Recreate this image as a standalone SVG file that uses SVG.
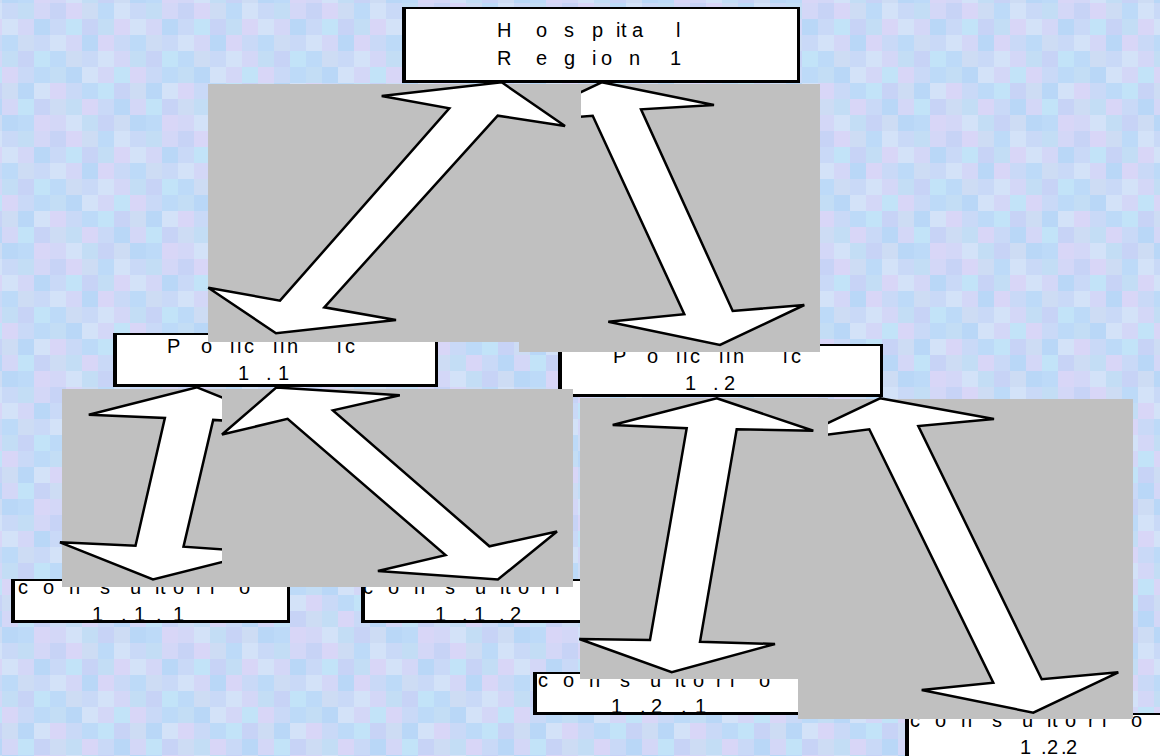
<svg xmlns="http://www.w3.org/2000/svg" width="1160" height="756" viewBox="0 0 1160 756">
  <defs>
    <!-- pale blue mosaic backdrop, 16px tiles -->
    <pattern id="mosaic" x="2" y="3" width="128" height="128" patternUnits="userSpaceOnUse">
      <rect width="128" height="128" fill="#C9D9F7"/>
      <rect x="16" y="0" width="16" height="16" fill="#C3DDF5"/>
      <rect x="32" y="0" width="16" height="16" fill="#D3D7F7"/>
      <rect x="48" y="0" width="16" height="16" fill="#C7D3F6"/>
      <rect x="64" y="0" width="16" height="16" fill="#D8D6F7"/>
      <rect x="80" y="0" width="16" height="16" fill="#CDDCF4"/>
      <rect x="96" y="0" width="16" height="16" fill="#BDDAF8"/>
      <rect x="112" y="0" width="16" height="16" fill="#D3E2F8"/>
      <rect x="0" y="16" width="16" height="16" fill="#D3E2F8"/>
      <rect x="16" y="16" width="16" height="16" fill="#D3D7F7"/>
      <rect x="32" y="16" width="16" height="16" fill="#B9D7F7"/>
      <rect x="64" y="16" width="16" height="16" fill="#C2E3F8"/>
      <rect x="80" y="16" width="16" height="16" fill="#C7D3F6"/>
      <rect x="96" y="16" width="16" height="16" fill="#C3DDF5"/>
      <rect x="112" y="16" width="16" height="16" fill="#D8D6F7"/>
      <rect x="0" y="32" width="16" height="16" fill="#BDDAF8"/>
      <rect x="16" y="32" width="16" height="16" fill="#CDDCF4"/>
      <rect x="48" y="32" width="16" height="16" fill="#D3E2F8"/>
      <rect x="64" y="32" width="16" height="16" fill="#D3D7F7"/>
      <rect x="80" y="32" width="16" height="16" fill="#B9D7F7"/>
      <rect x="96" y="32" width="16" height="16" fill="#D8D6F7"/>
      <rect x="0" y="48" width="16" height="16" fill="#C3DDF5"/>
      <rect x="16" y="48" width="16" height="16" fill="#C7D3F6"/>
      <rect x="32" y="48" width="16" height="16" fill="#C2E3F8"/>
      <rect x="48" y="48" width="16" height="16" fill="#BDDAF8"/>
      <rect x="64" y="48" width="16" height="16" fill="#CDDCF4"/>
      <rect x="96" y="48" width="16" height="16" fill="#D3E2F8"/>
      <rect x="112" y="48" width="16" height="16" fill="#D3D7F7"/>
      <rect x="0" y="64" width="16" height="16" fill="#D8D6F7"/>
      <rect x="32" y="64" width="16" height="16" fill="#BDDAF8"/>
      <rect x="48" y="64" width="16" height="16" fill="#C3DDF5"/>
      <rect x="64" y="64" width="16" height="16" fill="#B9D7F7"/>
      <rect x="80" y="64" width="16" height="16" fill="#D3E2F8"/>
      <rect x="96" y="64" width="16" height="16" fill="#D3D7F7"/>
      <rect x="112" y="64" width="16" height="16" fill="#C2E3F8"/>
      <rect x="0" y="80" width="16" height="16" fill="#CDDCF4"/>
      <rect x="16" y="80" width="16" height="16" fill="#B9D7F7"/>
      <rect x="32" y="80" width="16" height="16" fill="#D3E2F8"/>
      <rect x="48" y="80" width="16" height="16" fill="#D8D6F7"/>
      <rect x="80" y="80" width="16" height="16" fill="#BDDAF8"/>
      <rect x="96" y="80" width="16" height="16" fill="#C2E3F8"/>
      <rect x="112" y="80" width="16" height="16" fill="#C7D3F6"/>
      <rect x="0" y="96" width="16" height="16" fill="#D3D7F7"/>
      <rect x="16" y="96" width="16" height="16" fill="#C2E3F8"/>
      <rect x="32" y="96" width="16" height="16" fill="#C7D3F6"/>
      <rect x="48" y="96" width="16" height="16" fill="#CDDCF4"/>
      <rect x="64" y="96" width="16" height="16" fill="#C3DDF5"/>
      <rect x="80" y="96" width="16" height="16" fill="#D8D6F7"/>
      <rect x="112" y="96" width="16" height="16" fill="#B9D7F7"/>
      <rect x="0" y="112" width="16" height="16" fill="#B9D7F7"/>
      <rect x="16" y="112" width="16" height="16" fill="#BDDAF8"/>
      <rect x="32" y="112" width="16" height="16" fill="#D8D6F7"/>
      <rect x="48" y="112" width="16" height="16" fill="#D3D7F7"/>
      <rect x="64" y="112" width="16" height="16" fill="#D3E2F8"/>
      <rect x="80" y="112" width="16" height="16" fill="#C3DDF5"/>
      <rect x="96" y="112" width="16" height="16" fill="#C7D3F6"/>
      <rect x="112" y="112" width="16" height="16" fill="#CDDCF4"/>
    </pattern>
    <style>
      .box{fill:#fff;stroke:#000;stroke-width:2}
      .lside{fill:none;stroke:#000;stroke-width:4}
      .rside{fill:none;stroke:#000;stroke-width:3}
      .lbl{font-family:"Liberation Sans",Arial,sans-serif;font-size:20px;fill:#000}
      .panel{fill:#C0C0C0}
      .arrow{fill:#fff;stroke:#000;stroke-width:2.5;stroke-linejoin:miter}
    </style>
  </defs>

  <rect width="1160" height="756" fill="url(#mosaic)"/>

  <!-- nodes -->
  <g id="hospital">
    <rect class="box" x="403" y="8" width="396" height="74"/>
    <path class="lside" d="M404 7V83"/>
    <path class="rside" d="M798.5 7V81.5H402"/>
    <text class="lbl" y="37" x="497 511 536 548 564 575 592 604 616 620 621 627 632 643 676">H o s p i t a l</text>
    <text class="lbl" y="65" x="497 512 536 547 564 576 592 597 601 612 629 641 670">R e g i o n 1</text>
  </g>

  <g id="policlinic-1-1">
    <rect class="box" x="114" y="334" width="323" height="52"/>
    <path class="lside" d="M115 333V387"/>
    <path class="rside" d="M436.5 333V385.5H113"/>
    <text class="lbl" y="353" x="167 180 201 213 230 237 244 255 273 280 287 298 337 345">P o lic lin ic</text>
    <text class="lbl" y="380" x="238 250 266 278">1 .1</text>
  </g>

  <g id="policlinic-1-2">
    <rect class="box" x="559" y="345" width="323" height="51"/>
    <path class="lside" d="M560 344V397"/>
    <path class="rside" d="M881.5 344V395.5H558"/>
    <text class="lbl" y="363" x="613 626 647 659 676 683 690 701 719 726 733 744 783 791">P o lic lin ic</text>
    <text class="lbl" y="390" x="685 695 713 724">1 .2</text>
  </g>

  <g id="consultorio-1-1-1">
    <rect class="box" x="12" y="580" width="277" height="42"/>
    <path class="lside" d="M13 579V623"/>
    <path class="rside" d="M288.5 579V621.5H11"/>
    <text class="lbl" y="594" x="18 27 43 53 69 79 100 109 130 140 155 160 173 183 196 210 239">c o n s u lto rio</text>
    <text class="lbl" y="620.5" x="92 102 121 134 146 156 173">1 .1 .1</text>
  </g>

  <g id="consultorio-1-1-2">
    <rect class="box" x="362" y="580" width="277" height="42"/>
    <path class="lside" d="M363 579V623"/>
    <path class="rside" d="M638.5 579V621.5H361"/>
    <text class="lbl" y="594" x="363 372 388 398 414 424 445 454 475 485 500 505 518 528 541 555 584">c o n s u lto rio</text>
    <text class="lbl" y="620.5" x="435 445 462 474 488 499 510">1 .1 .2</text>
  </g>

  <g id="consultorio-1-2-1">
    <rect class="box" x="534" y="673" width="275" height="41"/>
    <path class="lside" d="M535 672V715"/>
    <path class="rside" d="M808.5 672V713.5H533"/>
    <text class="lbl" y="687" x="538 547 563 573 589 599 620 629 650 660 675 680 693 703 716 730 759">c o n s u lto rio</text>
    <text class="lbl" y="712.5" x="611 621 640 651 665 681 695">1 .2 .1</text>
  </g>

  <g id="consultorio-1-2-2">
    <rect class="box" x="906" y="714" width="286" height="43"/>
    <path class="lside" d="M907 713V758"/>
    <text class="lbl" y="727" x="910 919 935 945 961 971 992 1001 1022 1032 1047 1052 1065 1075 1088 1102 1131">c o n s u lto rio</text>
    <text class="lbl" y="753.5" x="1020 1030 1041 1047 1057 1061 1066">1 .2 .2</text>
  </g>

  <!-- connectors: grey panels carrying double-headed block arrows -->
  <g id="connectors">
    <g id="link-hospital-1-2">
      <rect class="panel" x="519" y="84" width="301" height="268"/>
      <polygon class="arrow" points="601.7,82.3 714,105 641,109.3 732.7,311 804.3,305 720,345 608.3,321.7 684.3,314.3 592.7,115.7 518.4,121.6"/>
    </g>
    <g id="link-hospital-1-1">
      <rect class="panel" x="208" y="84" width="373" height="258"/>
      <polygon class="arrow" points="501.7,82.3 565,126 497.7,115.7 324.3,307.3 396,320 276,333.3 208.3,287.7 280,300.7 449.3,108.3 381.7,96"/>
    </g>
    <g id="link-1-1-to-1-1-1">
      <rect class="panel" x="62" y="389" width="240" height="198"/>
      <polygon class="arrow" points="197,387.4 290,424.7 213.2,419.9 183.5,546.7 261.2,552.2 153,579.5 60,542.3 135.5,545.7 164.9,417.9 88.8,414.8"/>
    </g>
    <g id="link-1-1-to-1-1-2">
      <rect class="panel" x="222" y="389" width="351" height="198"/>
      <polygon class="arrow" points="276.5,387.4 399.8,395.2 332.9,410.4 489.4,546.3 557,531.5 497.9,579.5 377.9,571 445.5,555.1 287.6,418.9 222,434.5"/>
    </g>
    <g id="link-1-2-to-1-2-2">
      <rect class="panel" x="798" y="399" width="335" height="320"/>
      <polygon class="arrow" points="880,398.3 994,419 918.3,426 1041.7,679.3 1118.3,672.3 1033.3,712.7 921.7,690 993.3,682.7 869.3,429.3 795,438.7"/>
    </g>
    <g id="link-1-2-to-1-2-1">
      <rect class="panel" x="580" y="398" width="248" height="281"/>
      <polygon class="arrow" points="716.7,398.3 813.3,430.7 736.7,429.3 700,641.7 775,644 671.7,672.3 579.3,639 650,640 686.7,428.3 612.7,425"/>
    </g>
  </g>
</svg>
